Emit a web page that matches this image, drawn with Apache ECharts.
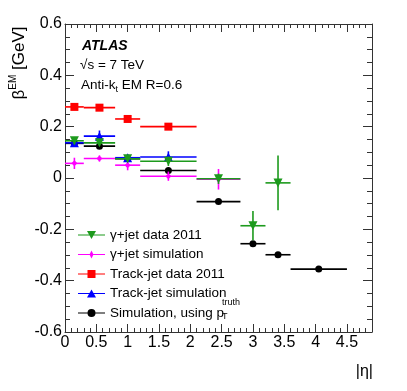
<!DOCTYPE html>
<html>
<head>
<meta charset="utf-8">
<script src="https://cdn.jsdelivr.net/npm/echarts@6/dist/echarts.min.js"></script>
<style>
html, body { margin: 0; padding: 0; background: #fff; }
#main { width: 407px; height: 391px; }
</style>
</head>
<body>
<div id="main"></div>
<script>
// eta bins, the points sit in the bin centres
var binLo = [0, 0.3, 0.8, 1.2, 2.1, 2.8, 3.2, 3.6];
var binHi = [0.3, 0.8, 1.2, 2.1, 2.8, 3.2, 3.6, 4.5];
var binMid = [0.15, 0.55, 1.0, 1.65, 2.45, 3.0, 3.4, 4.05];

var gjDataBeta = [0.145, 0.137, 0.075, 0.065, -0.003, -0.186, -0.019];
var gjDataErr = [0.014, 0.010, 0.012, 0.018, 0.020, 0.057, 0.107];
var gjSimBeta = [0.057, 0.076, 0.050, 0.007, -0.005];
var gjSimErr = [0.022, 0.012, 0.020, 0.018, 0.040];
var tjDataBeta = [0.277, 0.274, 0.230, 0.200];
var tjDataErr = [0.005, 0.005, 0.005, 0.005];
var tjSimBeta = [0.137, 0.163, 0.079, 0.082];
var tjSimErr = [0.016, 0.022, 0.014, 0.022];
var truthBeta = [0.135, 0.124, 0.075, 0.029, -0.092, -0.256, -0.299, -0.355];
var truthErr = [0.006, 0.006, 0.006, 0.006, 0.006, 0.008, 0.010, 0.006];

var xTicks = ['0', '0.5', '1', '1.5', '2', '2.5', '3', '3.5', '4', '4.5'];
var yTicks = ['-0.6', '-0.4', '-0.2', '0', '0.2', '0.4', '0.6'];

var FONT = '"Liberation Sans", Arial, Helvetica, sans-serif';

function pts(vals, errs) {
    var out = [];
    for (var i = 0; i < vals.length; i++) {
        out.push([binLo[i], binHi[i], binMid[i], vals[i], errs[i]]);
    }
    return out;
}

function errSeries(name, color, vals, errs, z) {
    return {
        name: name + ' err',
        type: 'custom',
        z: z,
        encode: { x: [0, 1, 2], y: 3 },
        data: pts(vals, errs),
        renderItem: function (params, api) {
            var y = api.value(3), e = api.value(4);
            var l = api.coord([api.value(0), y]);
            var r = api.coord([api.value(1), y]);
            var t = api.coord([api.value(2), y + e]);
            var b = api.coord([api.value(2), y - e]);
            return {
                type: 'group',
                children: [
                    { type: 'line', shape: { x1: l[0], y1: l[1], x2: r[0], y2: r[1] }, style: { stroke: color, lineWidth: 1.6 } },
                    { type: 'line', shape: { x1: t[0], y1: t[1], x2: b[0], y2: b[1] }, style: { stroke: color, lineWidth: 1.6 } }
                ]
            };
        }
    };
}

function markSeries(name, color, vals, symbol, size, rot, z) {
    var d = [];
    for (var i = 0; i < vals.length; i++) d.push([binMid[i], vals[i]]);
    return {
        name: name,
        type: 'scatter',
        z: z + 1,
        symbol: symbol,
        symbolSize: size,
        symbolRotate: rot,
        itemStyle: { color: color, opacity: 1 },
        data: d
    };
}

var green = '#1d9a1d', magenta = '#ff00ff', red = '#ff0000', blue = '#0000ff', black = '#000000';
var names = ['\u03b3+jet data 2011', '\u03b3+jet simulation', 'Track-jet data 2011', 'Track-jet simulation', 'Simulation, using p'];
var icons = [
    'path://M0,4.4H27V5.6H0Z M9,1H18L13.5,9Z',
    'path://M0,4.4H27V5.6H0Z M11.5,5L13.5,1L15.5,5L13.5,9Z',
    'path://M0,4.4H27V5.6H0Z M9.5,1H17.5V9H9.5Z',
    'path://M0,4.4H27V5.6H0Z M13.5,1L18,9H9Z',
    'path://M0,4.4H27V5.6H0Z M9.5,5A4,4,0,1,1,17.5,5A4,4,0,1,1,9.5,5Z'
];

var myChart = echarts.init(document.getElementById('main'));

var tickCol = '#333';
// ticks point into the frame, like ROOT draws them
function tick(len) {
    return { show: true, inside: true, length: len, lineStyle: { color: tickCol, width: 1 } };
}
function frameLine(show) {
    return { show: show, onZero: false, lineStyle: { color: tickCol, width: 1 } };
}
var option = {
    animation: false,
    textStyle: { fontFamily: FONT },
    grid: { left: 65, right: 35, top: 24, bottom: 59, containLabel: false },
    xAxis: [
        {
            type: 'value', position: 'bottom', min: 0, max: 4.9, interval: 0.5,
            axisLine: frameLine(true),
            axisTick: tick(8),
            axisLabel: {
                show: true, margin: 3, fontSize: 16, color: '#000', fontFamily: FONT, showMaxLabel: false,
                formatter: function (v) { var k = Math.round(v / 0.5); return xTicks[k] || ''; }
            },
            splitLine: { show: false }
        },
        {
            type: 'value', position: 'bottom', min: 0, max: 4.9, interval: 0.1,
            axisLine: frameLine(false), axisLabel: { show: false }, splitLine: { show: false },
            axisTick: tick(4)
        },
        {
            type: 'value', position: 'top', min: 0, max: 4.9, interval: 0.5,
            axisLine: frameLine(true),
            axisLabel: { show: false }, splitLine: { show: false },
            axisTick: tick(8)
        },
        {
            type: 'value', position: 'top', min: 0, max: 4.9, interval: 0.1,
            axisLine: frameLine(false), axisLabel: { show: false }, splitLine: { show: false },
            axisTick: tick(4)
        }
    ],
    yAxis: [
        {
            type: 'value', position: 'left', min: -0.6, max: 0.6, interval: 0.2,
            axisLine: frameLine(true),
            axisTick: tick(9),
            axisLabel: {
                show: true, margin: 3, fontSize: 16, color: '#000', fontFamily: FONT,
                formatter: function (v) { var k = Math.round((v + 0.6) / 0.2); return yTicks[k]; }
            },
            splitLine: { show: false }
        },
        {
            type: 'value', position: 'left', min: -0.6, max: 0.6, interval: 0.05,
            axisLine: frameLine(false), axisLabel: { show: false }, splitLine: { show: false },
            axisTick: tick(5)
        },
        {
            type: 'value', position: 'right', min: -0.6, max: 0.6, interval: 0.2,
            axisLine: frameLine(true),
            axisTick: tick(9),
            axisLabel: { show: false }, splitLine: { show: false }
        },
        {
            type: 'value', position: 'right', min: -0.6, max: 0.6, interval: 0.05,
            axisLine: frameLine(false), axisLabel: { show: false }, splitLine: { show: false },
            axisTick: tick(5)
        }
    ],
    legend: {
        orient: 'vertical', left: 73, top: 223,
        itemWidth: 27, itemHeight: 10, itemGap: 5.5,
        selectedMode: false,
        textStyle: { fontSize: 13.5, lineHeight: 14, color: '#000', fontFamily: FONT },
        data: names.map(function (n, i) { return { name: n, icon: icons[i] }; })
    },
    graphic: [
        { type: 'text', x: 82, y: 46, style: { text: 'ATLAS', font: 'italic bold 14px ' + FONT, fill: '#000', verticalAlign: 'middle' } },
        { type: 'text', x: 80, y: 65, style: { text: '\u221as = 7 TeV', font: '13.5px ' + FONT, fill: '#000', verticalAlign: 'middle' } },
        {
            type: 'text', x: 81, y: 85,
            style: {
                text: '{a|Anti-k}{s|t}{a| EM R=0.6}', fill: '#000', verticalAlign: 'middle',
                rich: {
                    a: { fontSize: 13.5, fontFamily: FONT, lineHeight: 18, verticalAlign: 'middle' },
                    s: { fontSize: 9, fontFamily: FONT, lineHeight: 18, verticalAlign: 'bottom' }
                }
            }
        },
        {
            type: 'text', x: 19, y: 63, rotation: Math.PI / 2,
            style: {
                text: '{b|\u03b2}{s|EM}{b| [GeV]}', fill: '#000', align: 'center', verticalAlign: 'middle',
                rich: {
                    b: { fontSize: 17, fontFamily: FONT, lineHeight: 22, verticalAlign: 'middle' },
                    s: { fontSize: 10, fontFamily: FONT, lineHeight: 22, verticalAlign: 'top' }
                }
            }
        },
        { type: 'text', x: 373, y: 372, style: { text: '|\u03b7|', font: '16px ' + FONT, fill: '#000', align: 'right', verticalAlign: 'middle' } },
        { type: 'text', x: 222, y: 317, style: { text: 'T', font: '9px ' + FONT, fill: '#000', verticalAlign: 'middle' } },
        { type: 'text', x: 222, y: 303, style: { text: 'truth', font: '9px ' + FONT, fill: '#000', verticalAlign: 'middle' } }
    ],
    series: [
        errSeries(names[4], black, truthBeta, truthErr, 2),
        markSeries(names[4], black, truthBeta, 'circle', 7, 0, 2),
        errSeries(names[1], magenta, gjSimBeta, gjSimErr, 4),
        markSeries(names[1], magenta, gjSimBeta, 'diamond', 6, 0, 4),
        errSeries(names[2], red, tjDataBeta, tjDataErr, 6),
        markSeries(names[2], red, tjDataBeta, 'rect', 8, 0, 6),
        errSeries(names[3], blue, tjSimBeta, tjSimErr, 8),
        markSeries(names[3], blue, tjSimBeta, 'triangle', 9, 0, 8),
        errSeries(names[0], green, gjDataBeta, gjDataErr, 10),
        markSeries(names[0], green, gjDataBeta, 'triangle', 9, 180, 10)
    ]
};
myChart.setOption(option);
</script>
</body>
</html>
